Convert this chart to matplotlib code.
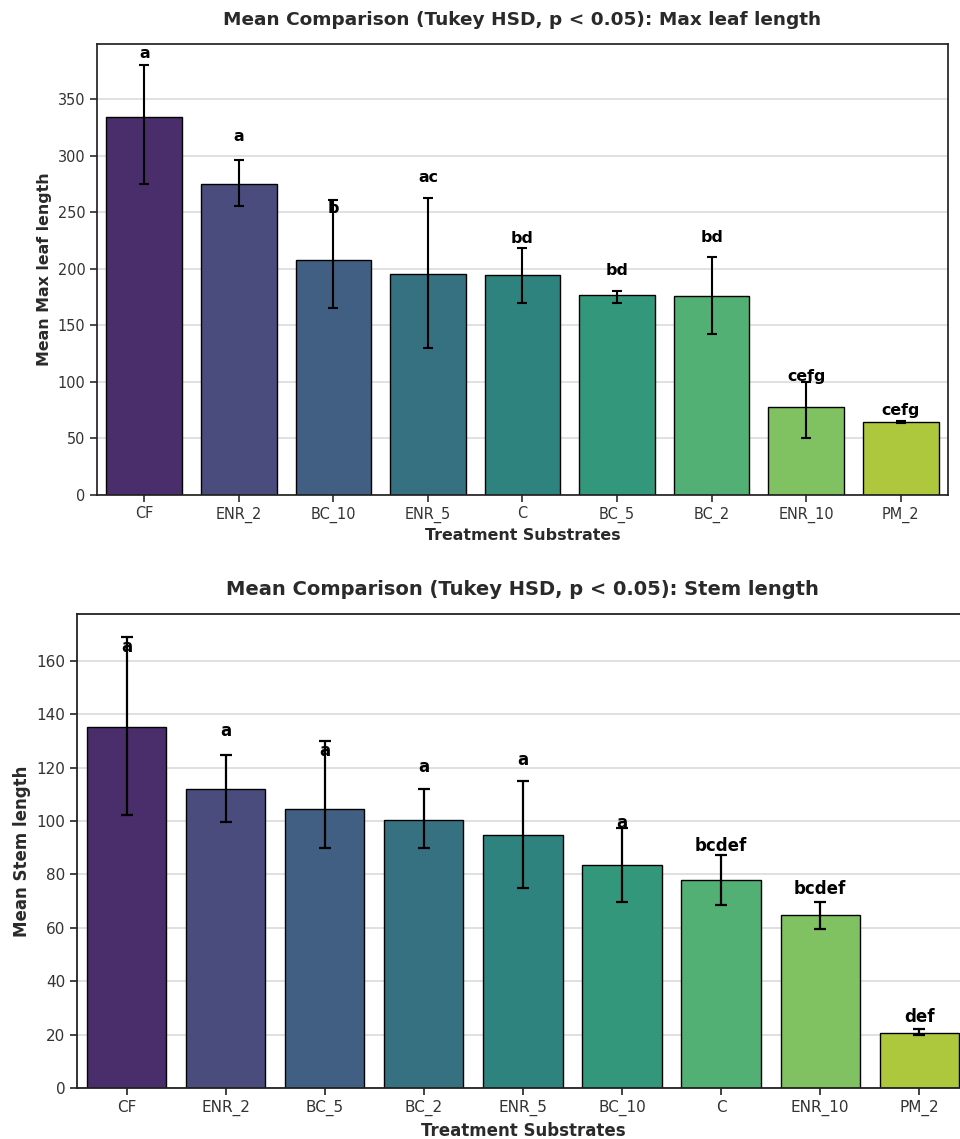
import numpy as np
import matplotlib
matplotlib.use("Agg")
import matplotlib.pyplot as plt
import seaborn as sns

# ── data ───────────────────────────────────────────────────────────────────────
leaf_groups = ["CF", "ENR_2", "BC_10", "ENR_5", "C", "BC_5", "BC_2", "ENR_10", "PM_2"]
leaf_mean   = [333.7, 275.2, 207.4, 195.6, 194.2, 176.5, 175.6, 78.0, 64.2]
leaf_lo     = [274.9, 255.7, 165.3, 130.0, 169.4, 170.0, 142.6, 50.4, 63.4]
leaf_hi     = [380.0, 296.0, 260.7, 262.2, 218.6, 180.3, 210.0, 99.9, 65.2]
leaf_letters = ["a", "a", "b", "ac", "bd", "bd", "bd", "cefg", "cefg"]
leaf_letter_y = [390, 317, 253.6, 281, 227, 198, 228, 104.6, 75]

stem_groups = ["CF", "ENR_2", "BC_5", "BC_2", "ENR_5", "BC_10", "C", "ENR_10", "PM_2"]
stem_mean   = [135.3, 112.2, 104.7, 100.6, 94.7, 83.4, 77.8, 64.8, 20.7]
stem_lo     = [102.3, 99.7, 89.9, 89.9, 75.0, 69.7, 68.7, 59.6, 19.9]
stem_hi     = [169.1, 124.7, 129.9, 112.0, 114.9, 97.5, 87.3, 69.7, 22.0]
stem_letters = ["a", "a", "a", "a", "a", "a", "bcdef", "bcdef", "def"]
stem_letter_y = [165.4, 133.8, 126.4, 120.4, 122.9, 99.4, 90.7, 74.7, 26.7]

colors = [sns.desaturate(c, 0.75) for c in sns.color_palette("viridis", 9)]


def panel(ax, groups, mean, lo, hi, letters, letter_y, ylim, ylabel, title, k=1.0):
    x = np.arange(len(groups))
    mean = np.array(mean)
    yerr = np.vstack([mean - np.array(lo), np.array(hi) - mean])
    ax.bar(x, mean, width=0.8, color=colors, edgecolor="black", linewidth=1.0, zorder=2)
    ax.errorbar(x, mean, yerr=yerr, fmt="none", ecolor="black", elinewidth=1.6 * k,
                capsize=4 * k, capthick=1.6 * k, zorder=3)
    for xi, lab, yl in zip(x, letters, letter_y):
        ax.text(xi, yl, lab, ha="center", va="center", fontsize=12 * k,
                fontweight="bold", color="black", zorder=4)
    ax.set_xlim(-0.5, len(groups) - 0.5)
    ax.set_ylim(*ylim)
    ax.set_xticks(x)
    ax.set_xticklabels(groups)
    ax.yaxis.grid(True, color="#dddddd", linewidth=1.3 * k)
    ax.set_axisbelow(True)
    for s in ax.spines.values():
        s.set_linewidth(1.3 * k)
        s.set_color("#222222")
    ax.tick_params(axis="both", labelsize=11 * k, colors="#222222", labelcolor="#333333",
                   length=5 * k, width=1.2 * k)
    ax.set_xlabel("Treatment Substrates", fontsize=12 * k, fontweight="bold", color="#2a2a2a")
    ax.set_ylabel(ylabel, fontsize=12 * k, fontweight="bold", color="#2a2a2a")
    ax.set_title(title, fontsize=14 * k, fontweight="bold", color="#2a2a2a", pad=14 * k)


fig = plt.figure(figsize=(9.6, 11.39), dpi=100)
ax1 = fig.add_axes([0.1010, 0.5654, 0.8865, 0.3960])
ax2 = fig.add_axes([0.0802, 0.0448, 0.9290, 0.4161])

panel(ax1, leaf_groups, leaf_mean, leaf_lo, leaf_hi, leaf_letters, leaf_letter_y,
      (0, 398.6), "Mean Max leaf length",
      "Mean Comparison (Tukey HSD, p < 0.05): Max leaf length", k=0.95)
panel(ax2, stem_groups, stem_mean, stem_lo, stem_hi, stem_letters, stem_letter_y,
      (0, 177.6), "Mean Stem length",
      "Mean Comparison (Tukey HSD, p < 0.05): Stem length")

fig.savefig("out.png", dpi=100)
